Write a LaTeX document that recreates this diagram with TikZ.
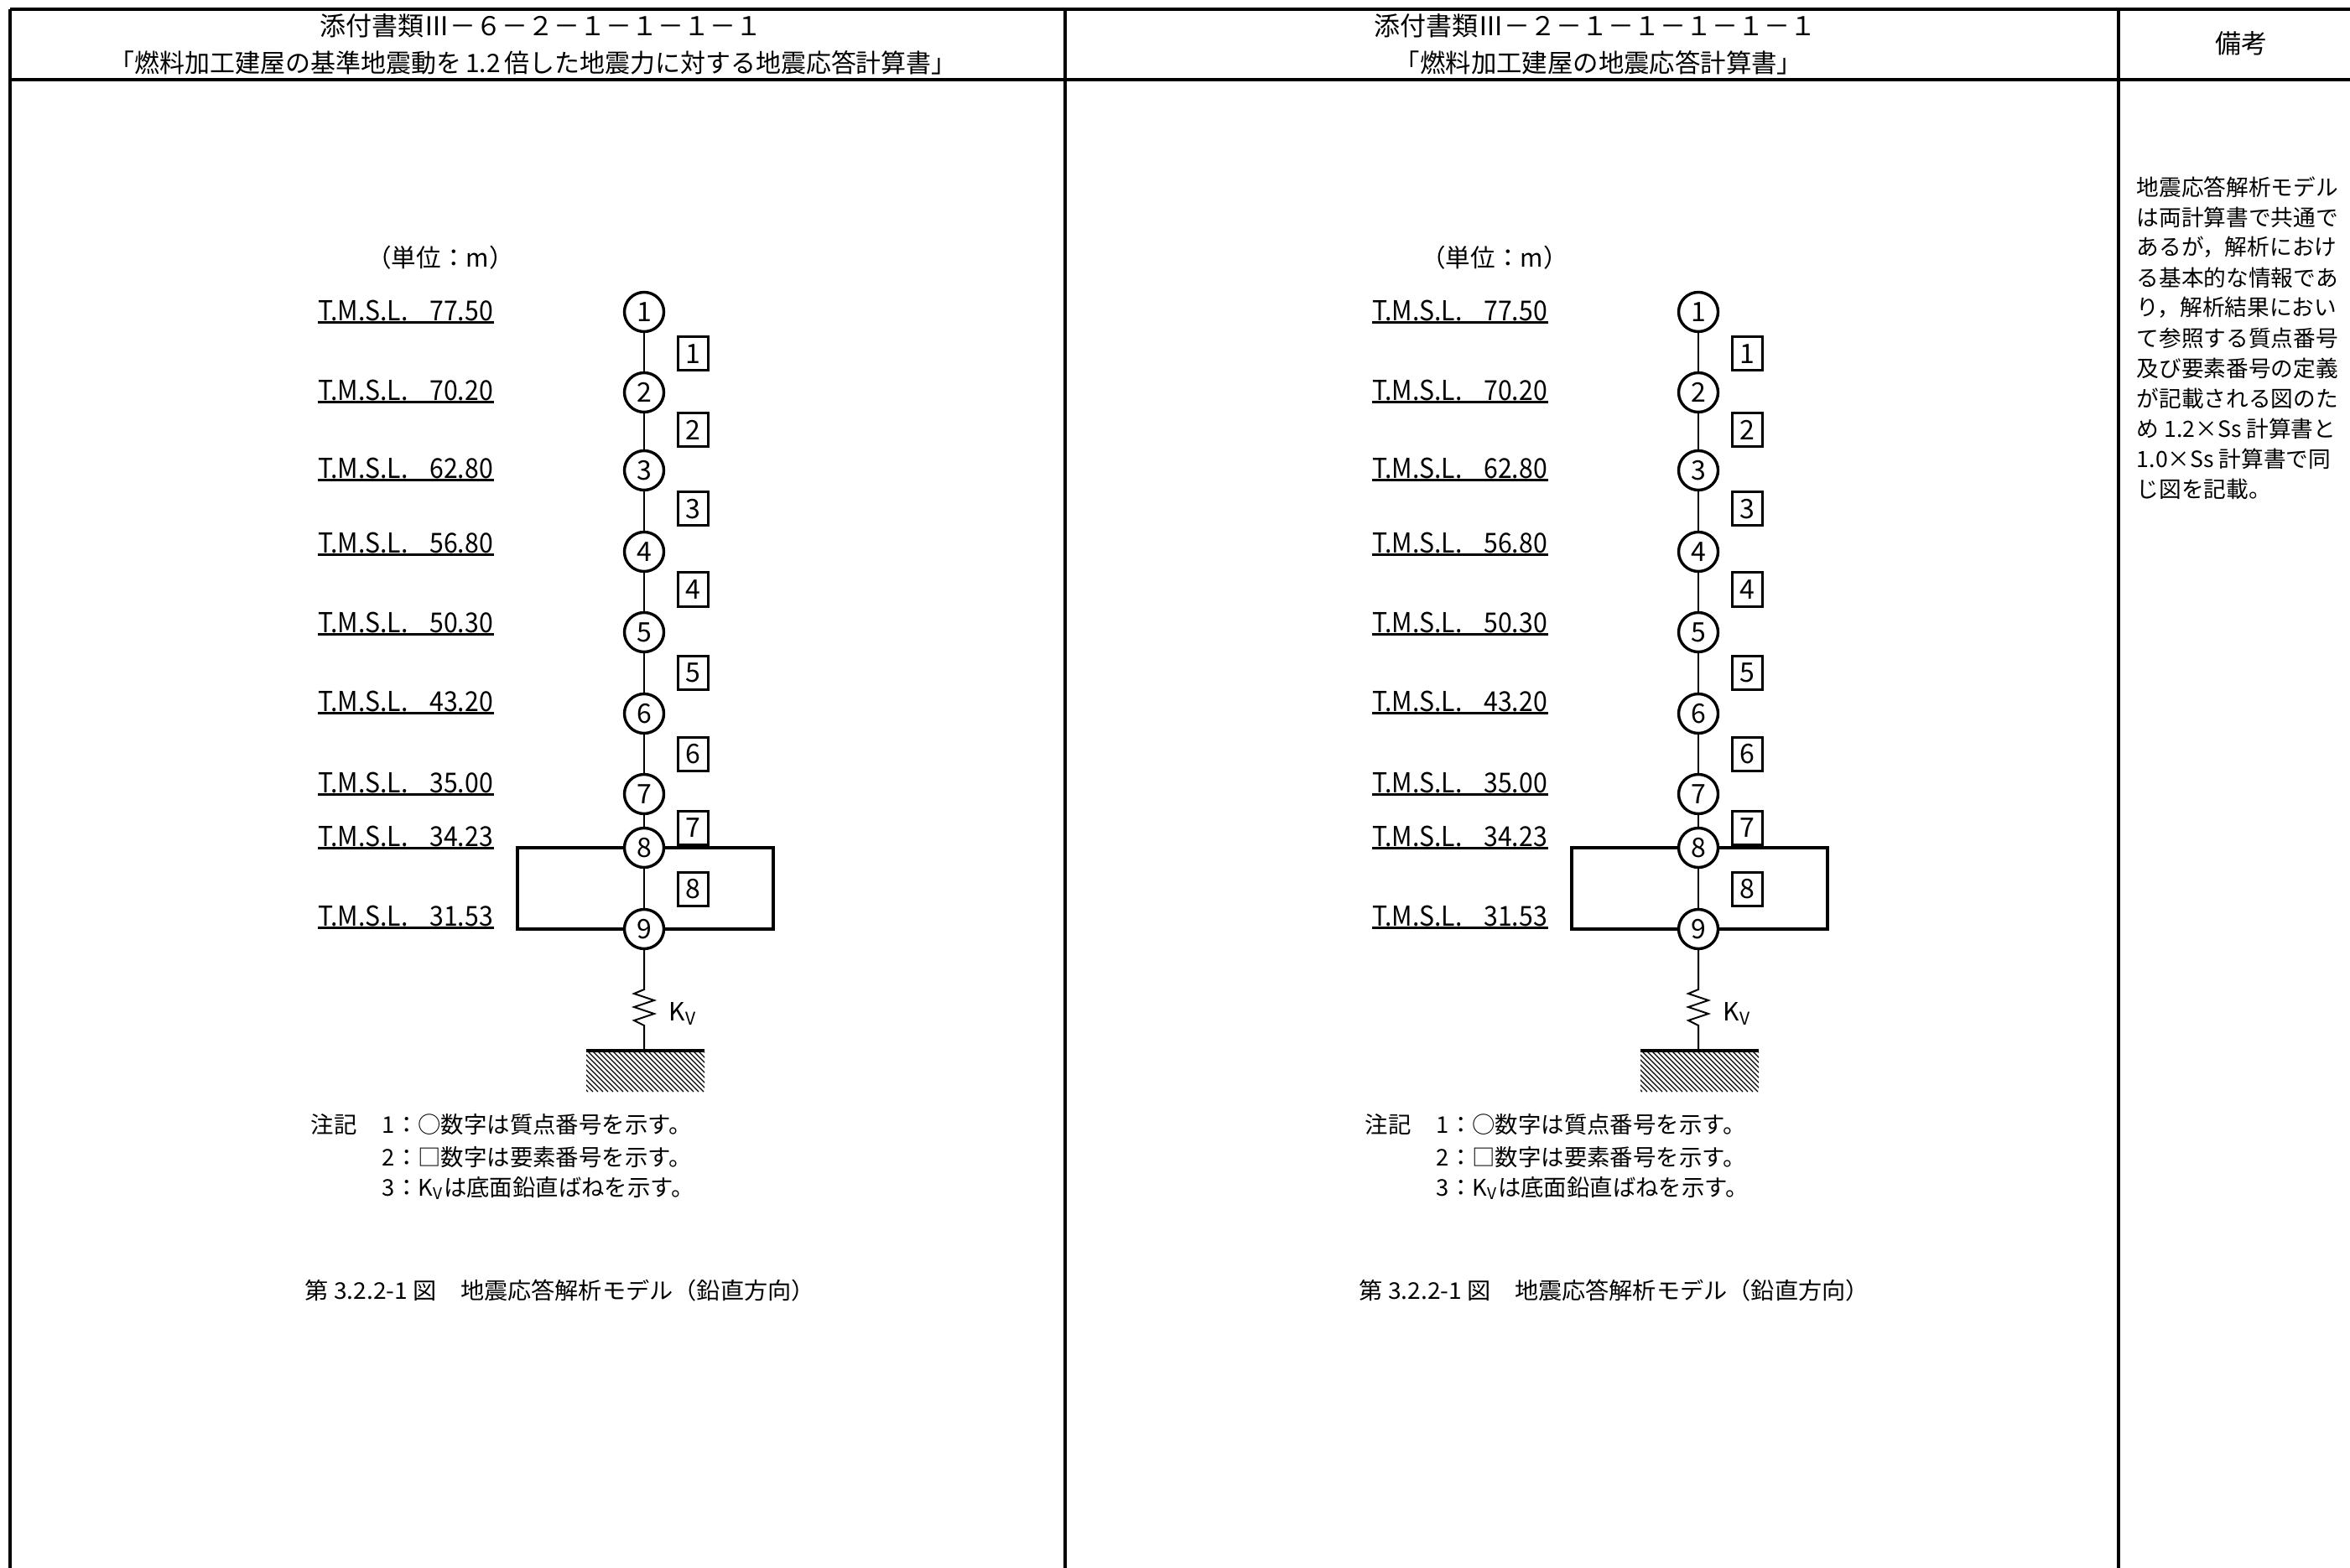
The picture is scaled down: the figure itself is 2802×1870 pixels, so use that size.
\documentclass[tikz,border=0pt]{standalone}
\usepackage{fontspec}
\usepackage{graphicx}
\usetikzlibrary{shapes.geometric}
\setmainfont{Noto Sans CJK JP}
\newcommand\fsz[1]{\fontsize{#1pt}{#1pt}\selectfont}
\newlength\pxu
\setlength\pxu{0.25pt}
\newcommand\fitw[2]{\resizebox{#1\pxu}{\height}{#2}}

\tikzset{
  txt/.style={inner sep=0pt},
  hline/.style={line width=1pt},
  vline/.style={line width=0.8pt},
  mass/.style={circle, draw, line width=0.85pt, minimum size=11.75pt, inner sep=0pt, font=\fsz{8}},
  elem/.style={rectangle, draw, line width=0.75pt, minimum width=9pt, minimum height=10pt, inner sep=0pt, font=\fsz{8}},
  lvl/.style={anchor=west, inner xsep=0pt, inner ysep=0.3pt, font=\fsz{8.2}},
  uline/.style={line width=0.55pt},
  stick/.style={line width=0.5pt},
  frame/.style={line width=0.8pt},
  hatch/.style={line width=0.3pt},
  ground/.style={line width=1pt},
  note/.style={anchor=west, inner sep=0pt, font=\fsz{6.85}},
}

\newcommand\drawpanel[2]{%
\begin{scope}[shift={(#2,0)}]
  \node[txt, font=\fsz{7.4}] (#1unit) at (525,307) {（単位：m）};
  \foreach \i/\y/\ly/\lv in {1/372/370/77.50, 2/468/465/70.20, 3/561/558/62.80, 4/658/647/56.80, 5/754/742/50.30, 6/851/836/43.20, 7/947/933/35.00, 8/1011/997/34.23, 9/1108/1092/31.53}{
    \node[mass] (#1c\i) at (768,\y) {\i};
    \node[lvl] (#1l\i) at (379,\ly) {\fitw{208}{T.M.S.L.\hspace{7pt}\lv}};
    \draw[uline] (#1l\i.south west) -- (#1l\i.south east);
  }
  \foreach \i/\y in {1/422,2/513,3/607,4/703,5/802,6/899,7/987,8/1060}{
    \node[elem] (#1e\i) at (826,\y) {\i};
  }
  \foreach \i/\j in {1/2,2/3,3/4,4/5,5/6,6/7,7/8,8/9}{
    \draw[stick] (#1c\i) -- (#1c\j);
  }
  \coordinate (#1fa) at (617,1011);
  \coordinate (#1fb) at (617,1108);
  \coordinate (#1fc) at (922,1011);
  \coordinate (#1fd) at (922,1108);
  \draw[frame] (#1c8) -- (#1fa) -- (#1fb) -- (#1c9);
  \draw[frame] (#1c8) -- (#1fc) -- (#1fd) -- (#1c9);
  \coordinate (#1s1) at (768,1180);
  \coordinate (#1s2) at (768,1223);
  \coordinate (#1g) at (768,1253);
  \draw[stick] (#1c9) -- (#1s1) -- ++(-12,5) -- ++(24,8) -- ++(-24,8) -- ++(24,8) -- ++(-24,8) -- (#1s2) -- (#1g);
  \node[txt, font=\fsz{7.5}, anchor=base west] (#1kv) at (797,1217) {K\textsubscript{V}};
  \coordinate (#1gl) at (699,1253);
  \coordinate (#1gr) at (840,1253);
  \begin{scope}
    \clip (699,1253) rectangle (840,1302);
    \foreach \k in {640,646,...,846} { \draw[hatch] (\k,1253) -- (\k+49,1302); }
  \end{scope}
  \draw[ground] (#1gl) -- (#1gr);
  \node[note] (#1n0) at (370,1341) {注記};
  \node[note] (#1n1) at (455,1341) {1：○数字は質点番号を示す。};
  \node[note] (#1n2) at (455,1380) {2：□数字は要素番号を示す。};
  \node[note] (#1n3) at (455,1417) {3：K\textsubscript{V}は底面鉛直ばねを示す。};
  \node[note] (#1cap) at (363,1539) {\fitw{608}{第 3.2.2-1 図　地震応答解析モデル（鉛直方向）}};
\end{scope}}

\begin{document}
\begin{tikzpicture}[x=0.25pt, y=-0.25pt]
  \useasboundingbox (0,0) rectangle (2802,1870);
  % table
  \draw[hline] (12,11) -- (2802,11);
  \draw[hline] (12,95) -- (2802,95);
  \draw[vline] (12,11) -- (12,1870);
  \draw[vline] (1270,11) -- (1270,1870);
  \draw[vline] (2526,11) -- (2526,1870);
  % headers
  \node[txt, font=\fsz{7.75}] (h1a) at (645,31) {添付書類Ⅲ－６－２－１－１－１－１};
  \node[txt, font=\fsz{7.6}, anchor=west] (h1b) at (130,75) {\fitw{1010}{「燃料加工建屋の基準地震動を\,1.2\,倍した地震力に対する地震応答計算書」}};
  \node[txt, font=\fsz{7.75}] (h2a) at (1902,31) {添付書類Ⅲ－２－１－１－１－１－１};
  \node[txt, font=\fsz{7.6}] (h2b) at (1906,75) {「燃料加工建屋の地震応答計算書」};
  \node[txt, font=\fsz{7.75}] (h3) at (2672,52) {備考};
  % panels
  \drawpanel{L}{0}
  \drawpanel{M}{1257}
  % remarks
  \foreach \t [count=\k from 0] in {地震応答解析モデル, は両計算書で共通で, あるが，解析におけ, る基本的な情報であ, り，解析結果におい, て参照する質点番号, 及び要素番号の定義, が記載される図のた, め 1.2×Ss 計算書と, 1.0×Ss 計算書で同, じ図を記載。}{
    \node[txt, anchor=west, font=\fsz{6.67}] (rm\k) at (2547,223+36*\k) {\t};
  }
\end{tikzpicture}
\end{document}
